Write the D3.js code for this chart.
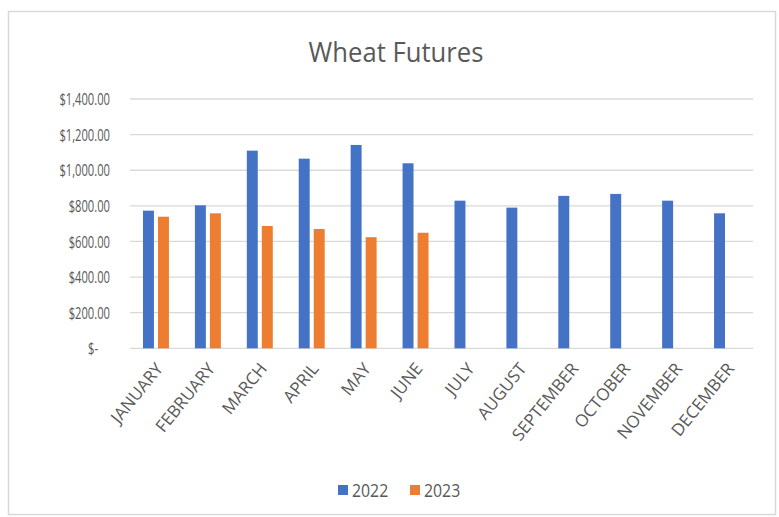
<!DOCTYPE html>
<html>
<head>
<meta charset="utf-8">
<script src="https://cdn.jsdelivr.net/npm/d3@7"></script>
<style>
  html, body { margin: 0; padding: 0; background: #fff; }
  svg { display: block; }
  text { font-family: "Open Sans", "Noto Sans", sans-serif; fill: #595959; }
</style>
</head>
<body>
<script>
// Monthly wheat futures prices
const months = ["JANUARY", "FEBRUARY", "MARCH", "APRIL", "MAY", "JUNE",
                "JULY", "AUGUST", "SEPTEMBER", "OCTOBER", "NOVEMBER", "DECEMBER"];
const series = ["2022", "2023"];
const values2022 = [773, 803, 1110, 1065, 1142, 1039, 829, 790, 856, 867, 829, 758];
const values2023 = [739, 758, 687, 670, 624, 649, null, null, null, null, null, null];
const yTicks = [0, 200, 400, 600, 800, 1000, 1200, 1400];
const colors = ["#4472C4", "#ED7D31"];

const W = 779, H = 517;
const svg = d3.select("body").append("svg").attr("width", W).attr("height", H);

// chart frame
svg.append("rect")
  .attr("x", 8.5).attr("y", 11.5).attr("width", 767).attr("height", 503)
  .attr("fill", "#fff").attr("stroke", "#D9D9D9").attr("stroke-width", 1.5);

// title
svg.append("text")
  .attr("transform", "translate(396,61.5) scale(0.95,1)")
  .attr("text-anchor", "middle")
  .style("font-size", "27px")
  .text("Wheat Futures");

const plot = { left: 130, right: 753, top: 99, bottom: 348.3 };

const x = d3.scaleBand().domain(months).range([plot.left, plot.right]).padding(0);
const groupW = x.bandwidth() * 0.5;
const x1 = d3.scaleBand().domain(series).range([0, groupW]).paddingInner(0.27).paddingOuter(0);
const y = d3.scaleLinear().domain([0, 1400]).range([plot.bottom, plot.top]);

// horizontal gridlines
svg.append("g").selectAll("line").data(yTicks).join("line")
  .attr("x1", plot.left).attr("x2", plot.right)
  .attr("y1", d => y(d)).attr("y2", d => y(d))
  .attr("stroke", "#D9D9D9").attr("stroke-width", 1.3);

// y axis labels (accounting format), condensed
const fmt = d => d === 0 ? "$-" : "$" + d3.format(",.2f")(d);
svg.append("g").selectAll("text").data(yTicks).join("text")
  .attr("transform", d => `translate(${d === 0 ? 98 : 110},${y(d)}) scale(0.7,1)`)
  .attr("dy", "0.38em")
  .attr("text-anchor", "end")
  .style("font-size", "16px")
  .text(fmt);

// bars
const rows = months.map((m, i) => ({ month: m, vals: [values2022[i], values2023[i]] }));
const groups = svg.append("g").selectAll("g").data(rows).join("g")
  .attr("transform", d => `translate(${x(d.month) + (x.bandwidth() - groupW) / 2},0)`);
groups.selectAll("rect")
  .data(d => d.vals.map((v, k) => ({ key: series[k], v, k })).filter(e => e.v != null))
  .join("rect")
  .attr("x", e => x1(e.key))
  .attr("width", x1.bandwidth())
  .attr("y", e => y(e.v))
  .attr("height", e => plot.bottom - y(e.v))
  .attr("fill", e => colors[e.k]);

// category labels, rotated
svg.append("g").selectAll("text").data(months).join("text")
  .attr("transform", d => `translate(${x(d) + x.bandwidth() / 2 + 8},${369}) rotate(-51)`)
  .attr("text-anchor", "end")
  .style("font-size", "17px")
  .text(d => d);

// legend
const legend = svg.append("g");
const legendX = [338, 410];
series.forEach((s, k) => {
  legend.append("rect")
    .attr("x", legendX[k]).attr("y", 485).attr("width", 10).attr("height", 10)
    .attr("fill", colors[k]);
  legend.append("text")
    .attr("transform", `translate(${legendX[k] + 14},496.5) scale(0.88,1)`)
    .style("font-size", "18px")
    .text(s);
});
</script>
</body>
</html>
